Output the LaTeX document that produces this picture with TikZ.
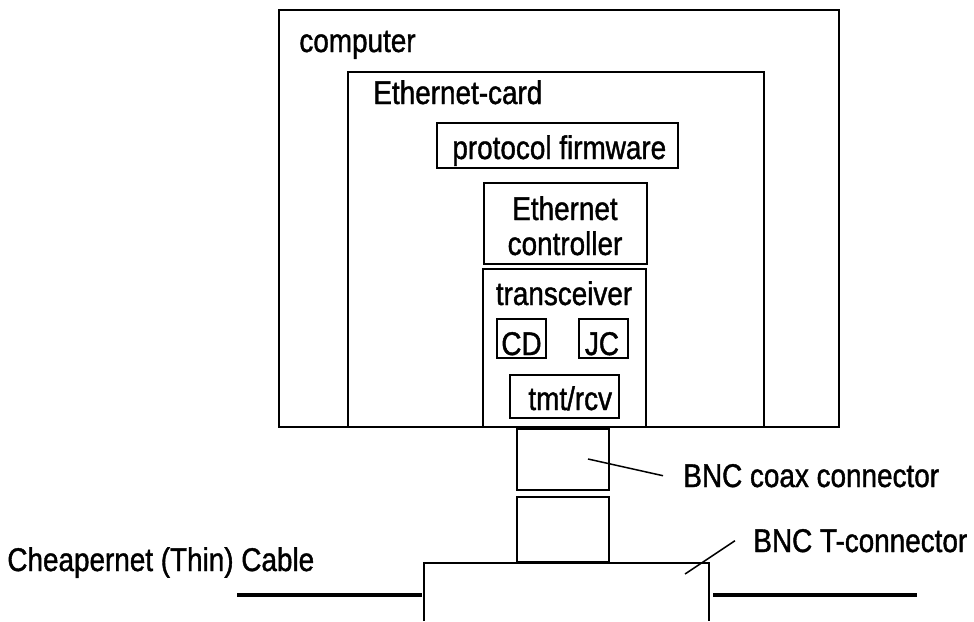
\documentclass[tikz,border=0pt]{standalone}
\usepackage{fontspec}
\setmainfont[FakeStretch=0.85, FakeBold=1.2]{Liberation Sans}

\tikzset{
	box/.style={line width=0.75pt},
	cable/.style={line width=2pt},
	lbl/.style={inner sep=0pt, anchor=base west},
	ctr/.style={inner sep=0pt, anchor=base}
}

\begin{document}
\begin{tikzpicture}[x=0.5pt, y=-0.5pt, font=\fontsize{16.4}{18}\selectfont]
		\useasboundingbox ( 0, 0 ) rectangle ( 974, 621 );

		% computer
		\draw [box] ( 279, 10 ) rectangle ( 839, 427 );
		\node [lbl] (computer) at ( 299, 52 ) {computer};

		% ethernet-card
		\draw [box] ( 348, 72 ) rectangle ( 764, 427 );
		\node [lbl] (card) at ( 373, 104 ) {Ethernet-card};

		\draw [box] ( 437, 123 ) rectangle ( 678, 168 );
		\node [lbl] (firmware) at ( 452, 159 ) {protocol firmware};

		\draw [box] ( 484, 183 ) rectangle ( 647, 264 );
		\node [ctr] (ctrl1) at ( 565, 220 ) {Ethernet};
		\node [ctr] (ctrl2) at ( 565, 255 ) {controller};

		% transceiver
		\draw [box] ( 483, 269 ) rectangle ( 646, 427 );
		\node [ctr] (trx) at ( 564, 305 ) {transceiver};
		\draw [box] ( 497, 319 ) rectangle ( 546, 358 );
		\node [ctr] (cd) at ( 521.5, 355 ) {CD};
		\draw [box] ( 579, 319 ) rectangle ( 628, 358 );
		\node [ctr] (jc) at ( 602, 355 ) {JC};
		\draw [box] ( 510, 375 ) rectangle ( 619, 418 );
		\node [lbl] (tmt) at ( 528, 410 ) {tmt/rcv};

		% bnc
		\draw [box] ( 517, 429 ) rectangle ( 609, 490 );
		\draw [box] ( 517, 497 ) rectangle ( 609, 562 );
		\draw [line width=1.3pt] ( 517, 429 ) -- ( 609, 429 );
		\draw [line width=1.3pt] ( 517, 562 ) -- ( 609, 562 );
		\draw [box] ( 424, 621 ) -- ( 424, 563 ) -- ( 709, 563 ) -- ( 709, 621 );

		% cable
		\draw [cable] ( 237, 595 ) -- ( 422, 595 );
		\draw [cable] ( 713, 595 ) -- ( 917, 595 );

		% labels
		\node [lbl] (coax) at ( 683, 487 ) {BNC coax connector};
		\node [lbl] (tcon) at ( 753, 552 ) {BNC T-connector};
		\node [lbl] (thin) at ( 7, 571 ) {Cheapernet (Thin) Cable};
		\coordinate (coaxtip) at ( 588, 459 );
		\coordinate (tcontip) at ( 685, 574 );
		\draw [box] (coaxtip) -- ([xshift=-10pt]coax.west);
		\draw [box] (tcontip) -- ([xshift=-9pt]tcon.west);
	\end{tikzpicture}
\end{document}
